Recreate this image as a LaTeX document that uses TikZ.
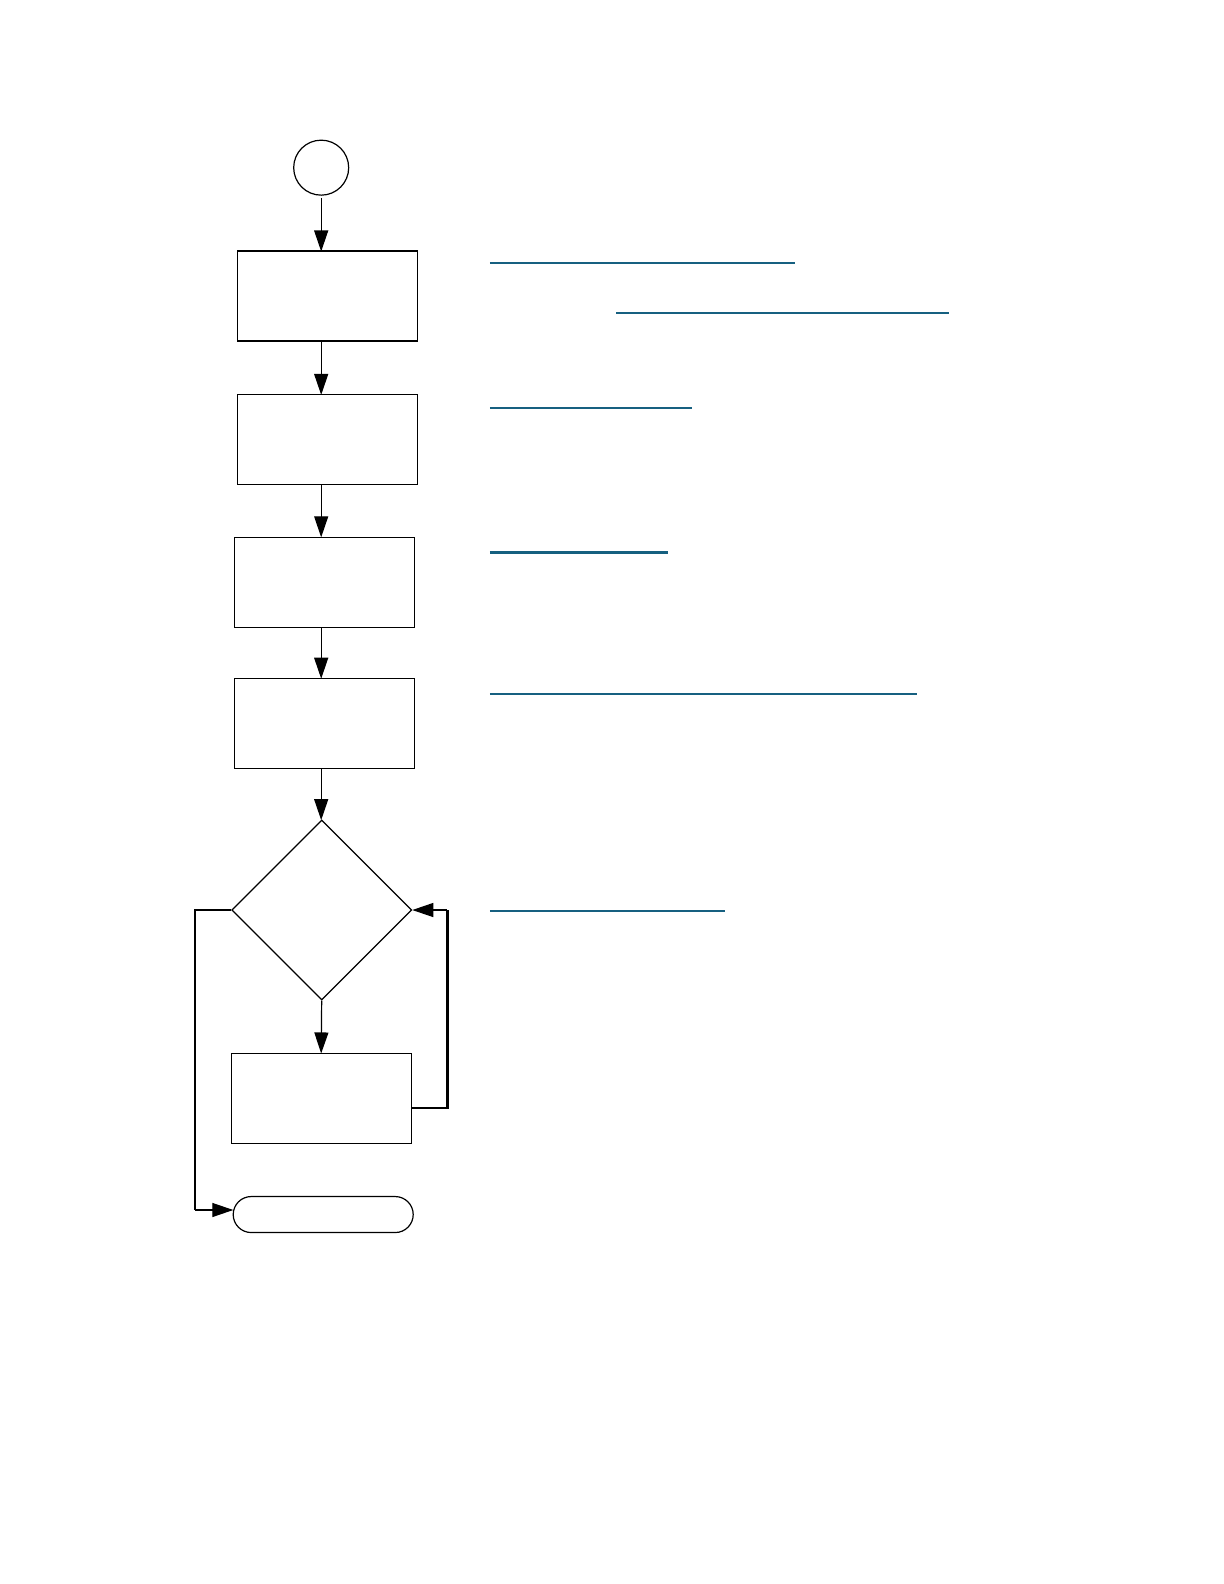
\documentclass[tikz,border=0pt]{standalone}
\usepackage{tikz}
\usetikzlibrary{shapes.geometric,shapes.misc,arrows.meta}
\definecolor{linkblue}{RGB}{22,96,128}
\tikzset{
  stepbox/.style={draw,line width=0.6pt,minimum width=90pt,minimum height=45pt,inner sep=0pt},
  flow/.style={line width=0.6pt,-{Triangle[length=10.5pt,width=7pt]}},
  linkline/.style={linkblue,line width=1.1pt}
}
\begin{document}
\begin{tikzpicture}[x=0.505pt,y=-0.505pt]
\useasboundingbox (0pt,0pt) rectangle (612pt,-792pt);
\node[draw,circle,line width=0.6pt,minimum size=27.5pt,inner sep=0pt] (start) at (318,166) {};
\node[stepbox] (b1) at (324,293) {};
\node[stepbox] (b2) at (324,435.5) {};
\node[stepbox] (b3) at (321,576.5) {};
\node[stepbox] (b4) at (321,716.5) {};
\node[draw,diamond,line width=0.6pt,minimum width=90pt,minimum height=90pt,inner sep=0pt] (test) at (318.5,901) {};
\node[stepbox] (b5) at (318,1087.5) {};
\node[draw,rounded rectangle,line width=0.6pt,minimum width=90pt,minimum height=18pt,inner sep=0pt] (stop) at (320,1202.5) {};
\coordinate (p1) at (318,196);
\draw[flow] (p1) -- (318,249);
\draw[flow] (318,337) -- (318,391);
\draw[flow] (318,480) -- (318,532);
\draw[flow] (318,621) -- (318,672);
\draw[flow] (318,761) -- (318,812);
\draw[flow] (test.south) -- (318,1043);
\coordinate (q1) at (407,1097);
\coordinate (q2) at (443,1097);
\coordinate (q3) at (443,901);
\draw[line width=1.3pt] (q1) -- (q2) -- (q3);
\draw[flow] (q3) -- (test.east);
\coordinate (r1) at (193,901);
\coordinate (r2) at (193,1198);
\draw[line width=0.6pt] (test.west) -- (r1) -- (r2);
\draw[flow] (r2) -- (231,1198);
% underlined links
\draw[linkline] (485,260) -- (787,260);
\draw[linkline] (610,310) -- (940,310);
\draw[linkline] (485,404) -- (685,404);
\draw[linkline] (485,547) -- (661,547);
\draw[linkline] (485,687) -- (908,687);
\draw[linkline] (485,902) -- (718,902);
\end{tikzpicture}
\end{document}
